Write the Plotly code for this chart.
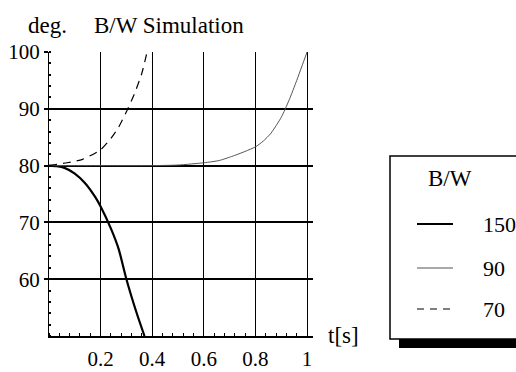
import plotly.graph_objects as go

# ---- data ----
t150 = [0, 0.03, 0.06, 0.1, 0.14, 0.18, 0.2, 0.24, 0.27, 0.3, 0.34, 0.37]
y150 = [80, 79.9, 79.6, 78.6, 76.9, 74.4, 72.8, 68.9, 65.3, 60.0, 54.0, 50.0]

t90 = [0, 0.2, 0.4, 0.5, 0.6, 0.66, 0.72, 0.76, 0.8, 0.83, 0.86, 0.9, 0.93, 0.96, 0.98, 1.0]
y90 = [80, 80, 80, 80.1, 80.5, 80.9, 81.8, 82.5, 83.3, 84.3, 85.7, 88.5, 91.5, 95.0, 97.5, 100]

t70 = [0, 0.07, 0.13, 0.2, 0.24, 0.27, 0.3, 0.33, 0.36, 0.38]
y70 = [80, 80.5, 81.1, 82.8, 84.8, 86.8, 89.5, 92.5, 96.3, 100]

legend_title = "B/W"
series_names = ["150", "90", "70"]
xticks = [0.2, 0.4, 0.6, 0.8, 1.0]
xticklabels = ["0.2", "0.4", "0.6", "0.8", "1"]
yticks = [60, 70, 80, 90, 100]

FONT = "Liberation Serif, Times New Roman, serif"
W, H = 516, 372
L, R, T, B = 49, 203, 52, 36
PW, PH = W - L - R, H - T - B


def px(x):
    return (x - L) / PW


def py(y):
    return (H - B - y) / PH


styles = [
    dict(color="black", width=2.2, dash="solid"),
    dict(color="#555555", width=1, dash="solid"),
    dict(color="black", width=1.2, dash="8px,6px"),
]

fig = go.Figure()
for (tx, ty), name, st in zip([(t150, y150), (t90, y90), (t70, y70)], series_names, styles):
    fig.add_trace(go.Scatter(x=tx, y=ty, mode="lines", name=name, line=dict(st, shape="spline", smoothing=0.6),
                             showlegend=False, cliponaxis=True))

fig.update_layout(
    width=W, height=H,
    margin=dict(l=L, r=R, t=T, b=B, autoexpand=False),
    paper_bgcolor="white", plot_bgcolor="white",
    font=dict(family=FONT, size=21, color="black"),
    xaxis=dict(range=[0, 1.023], tickvals=xticks, ticktext=xticklabels,
               showgrid=True, gridcolor="black", gridwidth=1.2,
               zeroline=False, showline=True, linecolor="black", linewidth=2,
               ticks="", ticklabelstandoff=3,
               minor=dict(dtick=0.04, ticks="inside", ticklen=3, tickcolor="black", showgrid=False)),
    yaxis=dict(range=[50, 100], tickvals=yticks,
               showgrid=True, gridcolor="black", gridwidth=2,
               zeroline=False, showline=True, linecolor="black", linewidth=1,
               ticks="outside", ticklen=4, tickwidth=2, tickcolor="black",
               minor=dict(dtick=2, ticks="inside", ticklen=2, tickcolor="black", showgrid=False)),
)

annotations = [
    dict(text="deg.", x=px(47), y=py(26)),
    dict(text="B/W Simulation", x=px(169), y=py(26)),
    dict(text="t[s]", x=px(343), y=py(335)),
    dict(text=legend_title, x=px(450), y=py(178)),
]
for a in annotations:
    fig.add_annotation(xref="paper", yref="paper", xanchor="center", yanchor="middle",
                       showarrow=False, font=dict(family=FONT, size=23), **a)

# legend box with shadow
fig.add_shape(type="rect", xref="paper", yref="paper", x0=px(399), x1=px(530),
              y0=py(348), y1=py(339), fillcolor="black", line=dict(width=0), layer="above")
fig.add_shape(type="rect", xref="paper", yref="paper", x0=px(390), x1=px(530),
              y0=py(339), y1=py(156), fillcolor="white", line=dict(color="black", width=1.5), layer="above")

leg_y = [224, 268, 309]
for name, st, yy in zip(series_names, styles, leg_y):
    sst = dict(st)
    if sst["dash"] != "solid":
        sst["dash"] = "7px,6px"
    fig.add_shape(type="line", xref="paper", yref="paper", x0=px(417), x1=px(453),
                  y0=py(yy), y1=py(yy), line=sst, layer="above")
    fig.add_annotation(xref="paper", yref="paper", x=px(481), y=py(yy), xanchor="left",
                       yanchor="middle", text=name, showarrow=False,
                       font=dict(family=FONT, size=22))

fig.write_html("out.html")
